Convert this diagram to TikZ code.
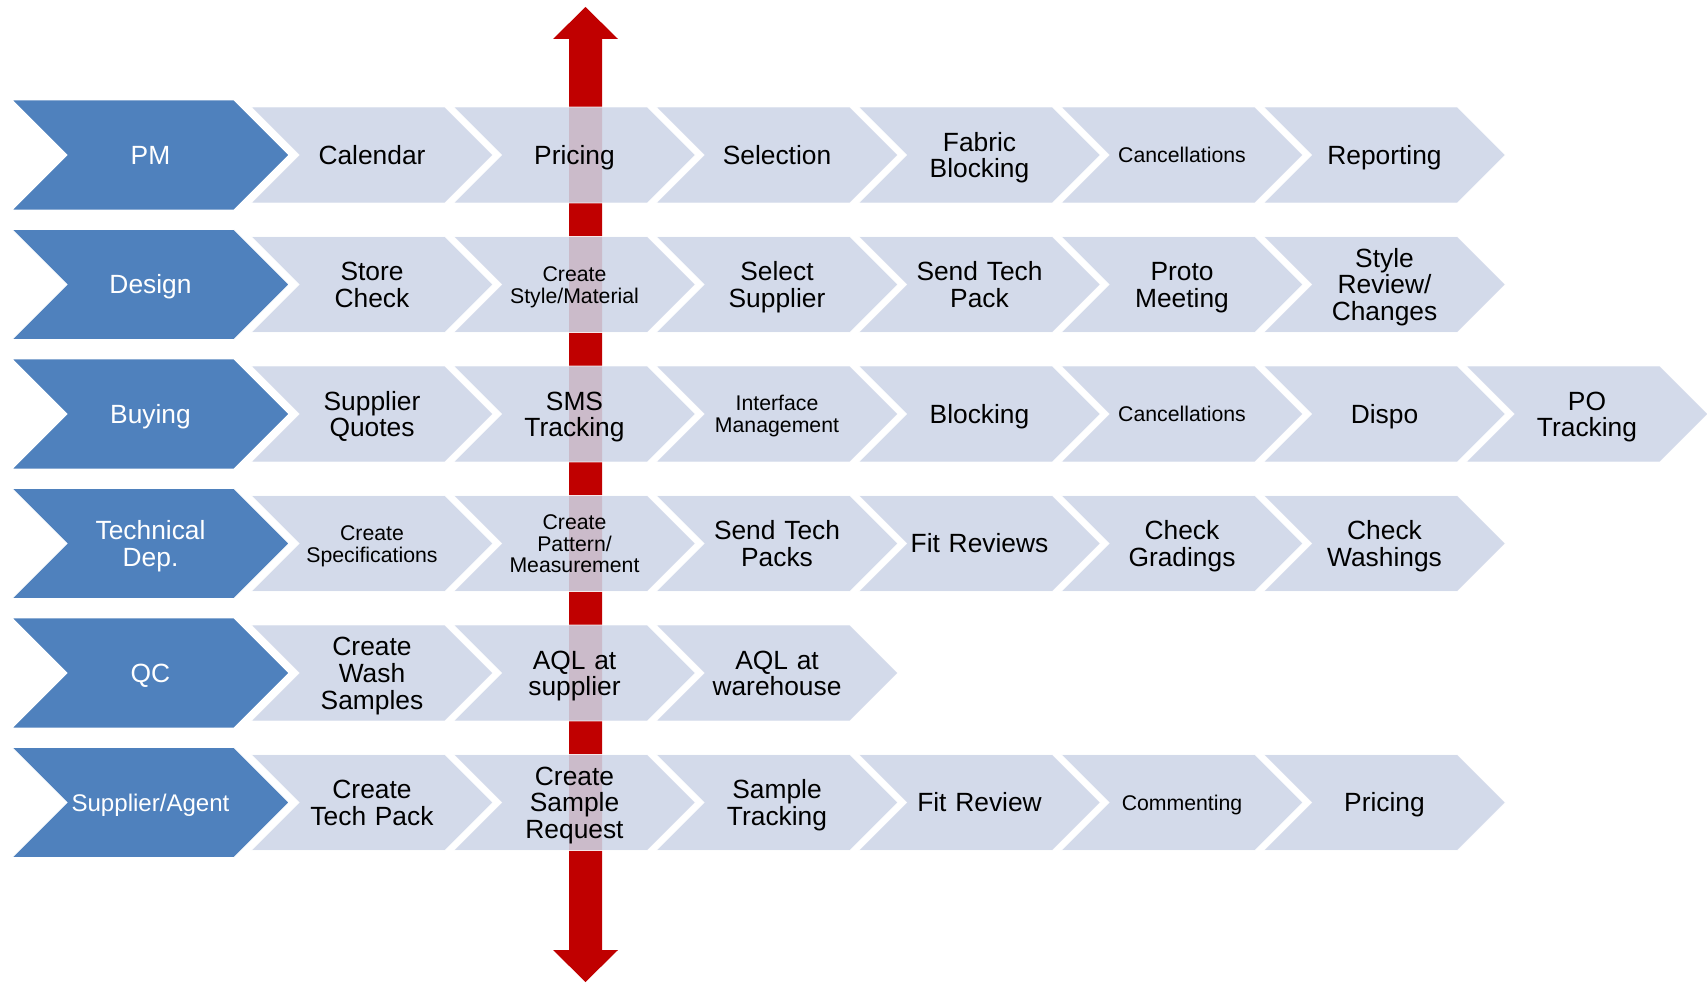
\documentclass[tikz,border=0pt]{standalone}
\usepackage{fontspec}
\setmainfont{Liberation Sans}
\usepackage{tikz}
\usetikzlibrary{shapes.symbols}

\definecolor{laneblue}{HTML}{4F81BD}
\definecolor{steplight}{HTML}{CDD5E7}
\definecolor{arrowred}{HTML}{C00000}

\newcommand{\bigtxt}{\fontsize{15}{15.2}\selectfont}
\newcommand{\smalltxt}{\fontsize{12.1}{12.4}\selectfont}
% fixed first line height and last line depth, so every label sits on the same middle
\newcommand{\topstrut}{\rule{0pt}{0.936em}}
\newcommand{\botstrut}{\rule[-0.22em]{0pt}{0.22em}}

\tikzset{
  lane/.style={shape=signal, signal from=west, signal to=east, signal pointer angle=90,
    fill=laneblue, draw=white, line width=0.5pt, text=white,
    minimum width=5.54cm, minimum height=2.2cm, inner sep=0pt,
    text width=3.2cm, align=center, font=\bigtxt,
    execute at begin node=\topstrut, execute at end node=\botstrut},
  stepchev/.style={shape=signal, signal from=west, signal to=east, signal pointer angle=90,
    fill=steplight, draw=white, line width=0.5pt, opacity=0.88, text opacity=1, text=black,
    minimum width=4.84cm, minimum height=1.92cm, inner sep=0pt,
    text width=2.8cm, align=center, font=\bigtxt,
    execute at begin node=\topstrut, execute at end node=\botstrut},
  smalltext/.style={font=\smalltxt}
}

\begin{document}
\begin{tikzpicture}[x=0.02cm, y=-0.02cm]
\useasboundingbox (0,0) rectangle (1707,983);
% red double arrow, the steps lie on top of it
\fill[arrowred] (585.5,7) -- (618,39) -- (602,39) -- (602,950) -- (618,950) -- (585.5,982)
  -- (553,950) -- (569,950) -- (569,39) -- (553,39) -- cycle;
% PM
\node[lane] (pm) at (150.5,155) {PM};
\node[stepchev] (pm1) at (372,155) {Calendar};
\node[stepchev] (pm2) at (574.5,155) {Pricing};
\node[stepchev] (pm3) at (777,155) {Selection};
\node[stepchev] (pm4) at (979.5,155) {Fabric\\Blocking};
\node[stepchev, smalltext] (pm5) at (1182,155) {Cancellations};
\node[stepchev] (pm6) at (1384.5,155) {Reporting};
% Design
\node[lane] (des) at (150.5,284.5) {Design};
\node[stepchev] (des1) at (372,284.5) {Store\\Check};
\node[stepchev, smalltext] (des2) at (574.5,284.5) {Create\\Style/Material};
\node[stepchev] (des3) at (777,284.5) {Select\\Supplier};
\node[stepchev] (des4) at (979.5,284.5) {Send Tech\\Pack};
\node[stepchev] (des5) at (1182,284.5) {Proto\\Meeting};
\node[stepchev] (des6) at (1384.5,284.5) {Style\\Review/\\Changes};
% Buying
\node[lane] (buy) at (150.5,414) {Buying};
\node[stepchev] (buy1) at (372,414) {Supplier\\Quotes};
\node[stepchev] (buy2) at (574.5,414) {SMS\\Tracking};
\node[stepchev, smalltext] (buy3) at (777,414) {Interface\\Management};
\node[stepchev] (buy4) at (979.5,414) {Blocking};
\node[stepchev, smalltext] (buy5) at (1182,414) {Cancellations};
\node[stepchev] (buy6) at (1384.5,414) {Dispo};
\node[stepchev] (buy7) at (1587,414) {PO\\Tracking};
% Technical Dep.
\node[lane] (tech) at (150.5,543.5) {Technical\\Dep.};
\node[stepchev, smalltext] (tech1) at (372,543.5) {Create\\Specifications};
\node[stepchev, smalltext] (tech2) at (574.5,543.5) {Create\\Pattern/\\Measurement};
\node[stepchev] (tech3) at (777,543.5) {Send Tech\\Packs};
\node[stepchev] (tech4) at (979.5,543.5) {Fit Reviews};
\node[stepchev] (tech5) at (1182,543.5) {Check\\Gradings};
\node[stepchev] (tech6) at (1384.5,543.5) {Check\\Washings};
% QC
\node[lane] (qc) at (150.5,673) {QC};
\node[stepchev] (qc1) at (372,673) {Create\\Wash\\Samples};
\node[stepchev] (qc2) at (574.5,673) {AQL at\\supplier};
\node[stepchev] (qc3) at (777,673) {AQL at\\warehouse};
% Supplier/Agent
\node[lane, font=\fontsize{13.7}{14}\selectfont] (sup) at (150.5,802.5) {Supplier/Agent};
\node[stepchev] (sup1) at (372,802.5) {Create\\Tech Pack};
\node[stepchev] (sup2) at (574.5,802.5) {Create\\Sample\\Request};
\node[stepchev] (sup3) at (777,802.5) {Sample\\Tracking};
\node[stepchev] (sup4) at (979.5,802.5) {Fit Review};
\node[stepchev, smalltext] (sup5) at (1182,802.5) {Commenting};
\node[stepchev] (sup6) at (1384.5,802.5) {Pricing};
\end{tikzpicture}
\end{document}
